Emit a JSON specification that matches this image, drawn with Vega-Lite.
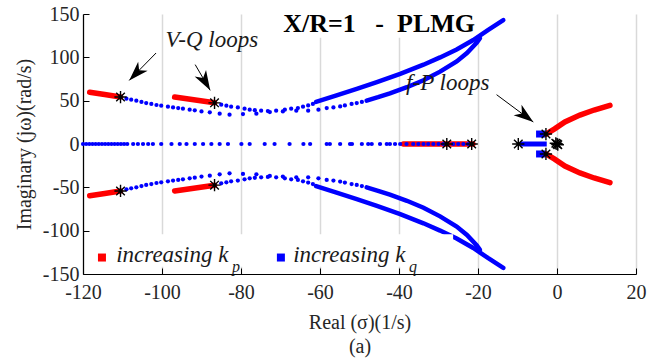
{
"$schema": "https://vega.github.io/schema/vega-lite/v6.json",
"width": 553, "height": 260,
"autosize": "none",
"padding": {"left": 83, "top": 14, "right": 15, "bottom": 88},
"background": "white",
"config": {"view": {"stroke": null}, "font": "Liberation Serif",
 "style": {"guide-label": {"font": "Liberation Serif", "fontSize": 20}, "guide-title": {"font": "Liberation Serif"}},
 "axis": {"labelFont": "Liberation Serif", "titleFont": "Liberation Serif"}},
"datasets": {
"kp": [
{"seg":"A+","x":-118.3,"y":59.8},{"seg":"A+","x":-114.5,"y":57.2},{"seg":"A+","x":-110.5,"y":54.2},
{"seg":"A-","x":-118.3,"y":-59.8},{"seg":"A-","x":-114.5,"y":-57.2},{"seg":"A-","x":-110.5,"y":-54.2},
{"seg":"B+","x":-96.8,"y":54.2},{"seg":"B+","x":-86.7,"y":47.5},
{"seg":"B-","x":-96.8,"y":-54.2},{"seg":"B-","x":-86.7,"y":-47.5},
{"seg":"R0","x":-38.9,"y":0},{"seg":"R0","x":-21.3,"y":0},
{"seg":"F+","x":-2.8,"y":11.5},{"seg":"F+","x":-0.6,"y":17.5},{"seg":"F+","x":2.0,"y":25.5},{"seg":"F+","x":5.8,"y":33.4},{"seg":"F+","x":9.4,"y":39.2},{"seg":"F+","x":13.4,"y":44.7},
{"seg":"F-","x":-2.8,"y":-11.5},{"seg":"F-","x":-0.6,"y":-17.5},{"seg":"F-","x":2.0,"y":-25.5},{"seg":"F-","x":5.8,"y":-33.4},{"seg":"F-","x":9.4,"y":-39.2},{"seg":"F-","x":13.4,"y":-44.7}
],
"kqCurves": [
{"seg":"O+","x":-61,"y":48.5},{"seg":"O+","x":-55.8,"y":56},{"seg":"O+","x":-50.7,"y":63.5},{"seg":"O+","x":-45.6,"y":71.5},{"seg":"O+","x":-39.7,"y":81},{"seg":"O+","x":-33.8,"y":91.5},{"seg":"O+","x":-29.6,"y":99.9},{"seg":"O+","x":-25.4,"y":109},{"seg":"O+","x":-21.2,"y":120},{"seg":"O+","x":-17.5,"y":131.5},{"seg":"O+","x":-13.6,"y":143},
{"seg":"O-","x":-61,"y":-48.5},{"seg":"O-","x":-55.8,"y":-56},{"seg":"O-","x":-50.7,"y":-63.5},{"seg":"O-","x":-45.6,"y":-71.5},{"seg":"O-","x":-39.7,"y":-81},{"seg":"O-","x":-33.8,"y":-91.5},{"seg":"O-","x":-29.6,"y":-99.9},{"seg":"O-","x":-25.4,"y":-109},{"seg":"O-","x":-21.2,"y":-120},{"seg":"O-","x":-17.5,"y":-131.5},{"seg":"O-","x":-13.6,"y":-143},
{"seg":"I+","x":-48.2,"y":50},{"seg":"I+","x":-45.3,"y":54},{"seg":"I+","x":-42.3,"y":58.5},{"seg":"I+","x":-38,"y":65.5},{"seg":"I+","x":-33.8,"y":73.5},{"seg":"I+","x":-29.6,"y":83.5},{"seg":"I+","x":-25.4,"y":95.3},{"seg":"I+","x":-22.8,"y":105},{"seg":"I+","x":-20.3,"y":117},{"seg":"I+","x":-19.5,"y":122},
{"seg":"I-","x":-48.2,"y":-50},{"seg":"I-","x":-45.3,"y":-54},{"seg":"I-","x":-42.3,"y":-58.5},{"seg":"I-","x":-38,"y":-65.5},{"seg":"I-","x":-33.8,"y":-73.5},{"seg":"I-","x":-29.6,"y":-83.5},{"seg":"I-","x":-25.4,"y":-95.3},{"seg":"I-","x":-22.8,"y":-105},{"seg":"I-","x":-20.3,"y":-117},{"seg":"I-","x":-19.5,"y":-122}
],
"kqAxis": [{"seg":"H","x":-9.4,"y":0},{"seg":"H","x":-2.6,"y":0}],
"kqBlocks": [{"seg":"S+","x":-5.3,"y":11.5},{"seg":"S+","x":-3.0,"y":11.5},{"seg":"S-","x":-5.3,"y":-11.5},{"seg":"S-","x":-3.0,"y":-11.5}],
"kqDots": [
{"x":-120,"y":0},{"x":-119.2,"y":0},{"x":-118.4,"y":0},{"x":-117.6,"y":0},{"x":-116.8,"y":0},{"x":-116,"y":0},{"x":-115.2,"y":0},{"x":-114.4,"y":0},{"x":-113.6,"y":0},{"x":-112.8,"y":0},{"x":-112,"y":0},{"x":-111.2,"y":0},{"x":-110.4,"y":0},{"x":-109.6,"y":0},{"x":-108.8,"y":0},{"x":-107.3,"y":0},{"x":-106.1,"y":0},{"x":-104.8,"y":0},{"x":-103.5,"y":0},{"x":-102.3,"y":0},{"x":-100.2,"y":0},{"x":-97.6,"y":0},{"x":-95.5,"y":0},{"x":-93.8,"y":0},{"x":-91.7,"y":0},{"x":-89.6,"y":0},{"x":-87.5,"y":0},{"x":-85.4,"y":0},{"x":-83.3,"y":0},{"x":-79.9,"y":0},{"x":-77.8,"y":0},{"x":-74,"y":0},{"x":-71.5,"y":0},{"x":-67.7,"y":0},{"x":-64.2,"y":0},{"x":-62.5,"y":0},{"x":-58.3,"y":0},{"x":-57.5,"y":0},{"x":-54.9,"y":0},{"x":-52.4,"y":0},{"x":-51.9,"y":0},{"x":-49.4,"y":0},{"x":-47.8,"y":0},{"x":-46.9,"y":0},{"x":-44.8,"y":0},{"x":-43.1,"y":0},{"x":-42.3,"y":0},{"x":-41,"y":0},{"x":-39.7,"y":0},{"x":-38.1,"y":0},{"x":-36.4,"y":0},{"x":-35.1,"y":0},{"x":-33.8,"y":0},{"x":-32.6,"y":0},{"x":-31.3,"y":0},{"x":-30,"y":0},{"x":-28.8,"y":0},{"x":-26.3,"y":0},{"x":-25,"y":0},{"x":-23.7,"y":0},{"x":-22.5,"y":0},
{"x":-109,"y":52.3},{"x":-107.8,"y":51.1},{"x":-106.5,"y":50},{"x":-105.2,"y":48.5},{"x":-104,"y":47.3},{"x":-102.7,"y":46.2},{"x":-101.4,"y":45},{"x":-100.2,"y":44.2},{"x":-98.5,"y":43},{"x":-97.2,"y":42.2},{"x":-95.9,"y":41.5},{"x":-94.7,"y":40.7},{"x":-93,"y":39.6},{"x":-91.7,"y":38.8},{"x":-90,"y":37.6},{"x":-87.9,"y":36.5},{"x":-85.4,"y":35},{"x":-82.9,"y":33.8},{"x":-79.5,"y":34.6},{"x":-76.1,"y":35},{"x":-72.7,"y":36.9},{"x":-69.4,"y":37.6},{"x":-66,"y":38.4},{"x":-63,"y":38.4},{"x":-60.4,"y":39.6},{"x":-58.3,"y":41.5},{"x":-56.6,"y":42.2},{"x":-54.9,"y":43.4},{"x":-53.7,"y":44.5},{"x":-52,"y":46.2},{"x":-50.7,"y":47.3},{"x":-49.4,"y":48.5},
{"x":-85,"y":45.3},{"x":-83.7,"y":44.2},{"x":-82.5,"y":43},{"x":-80.8,"y":42.2},{"x":-79.1,"y":40.7},{"x":-77.8,"y":39.6},{"x":-76.5,"y":39},{"x":-74.9,"y":38.4},{"x":-73.2,"y":38},{"x":-71.1,"y":38.4},{"x":-68.9,"y":39.6},{"x":-67.3,"y":40.7},{"x":-65.6,"y":41.5},{"x":-64.3,"y":43},{"x":-63,"y":44.5},{"x":-61.8,"y":46.2},
{"x":-109,"y":-52.3},{"x":-107.8,"y":-51.1},{"x":-106.5,"y":-50},{"x":-105.2,"y":-48.5},{"x":-104,"y":-47.3},{"x":-102.7,"y":-46.2},{"x":-101.4,"y":-45},{"x":-100.2,"y":-44.2},{"x":-98.5,"y":-43},{"x":-97.2,"y":-42.2},{"x":-95.9,"y":-41.5},{"x":-94.7,"y":-40.7},{"x":-93,"y":-39.6},{"x":-91.7,"y":-38.8},{"x":-90,"y":-37.6},{"x":-87.9,"y":-36.5},{"x":-85.4,"y":-35},{"x":-82.9,"y":-33.8},{"x":-79.5,"y":-34.6},{"x":-76.1,"y":-35},{"x":-72.7,"y":-36.9},{"x":-69.4,"y":-37.6},{"x":-66,"y":-38.4},{"x":-63,"y":-38.4},{"x":-60.4,"y":-39.6},{"x":-58.3,"y":-41.5},{"x":-56.6,"y":-42.2},{"x":-54.9,"y":-43.4},{"x":-53.7,"y":-44.5},{"x":-52,"y":-46.2},{"x":-50.7,"y":-47.3},{"x":-49.4,"y":-48.5},
{"x":-85,"y":-45.3},{"x":-83.7,"y":-44.2},{"x":-82.5,"y":-43},{"x":-80.8,"y":-42.2},{"x":-79.1,"y":-40.7},{"x":-77.8,"y":-39.6},{"x":-76.5,"y":-39},{"x":-74.9,"y":-38.4},{"x":-73.2,"y":-38},{"x":-71.1,"y":-38.4},{"x":-68.9,"y":-39.6},{"x":-67.3,"y":-40.7},{"x":-65.6,"y":-41.5},{"x":-64.3,"y":-43},{"x":-63,"y":-44.5},{"x":-61.8,"y":-46.2}
],
"stars": [
{"x":-110.5,"y":54.2},{"x":-110.5,"y":-54.2},{"x":-86.7,"y":47.5},{"x":-86.7,"y":-47.5},
{"x":-27.9,"y":0},{"x":-21.6,"y":0},{"x":-9.8,"y":0},{"x":-2.8,"y":11.5},{"x":-2.8,"y":-11.5},
{"x":-0.3,"y":0.8},{"x":0.2,"y":-0.8},{"x":0,"y":0}
],
"titleBox": [{"x":-70,"x2":-19.5,"y":150,"y2":122.7}],
"legendBox": [{"x":-119,"x2":-26.3,"y":-104.2,"y2":-141.5}],
"arrows": [
{"id":"a1","x":-101.5,"y":105,"x2":-108.3,"y2":73.4},
{"id":"a2","x":-91.6,"y":91.6,"x2":-87.8,"y2":61.9},
{"id":"a3","x":-15.3,"y":56.9,"x2":-6.0,"y2":25.4}
],
"legendKeys": [
{"series":"increasing kp","x":-115.2,"y":-131},
{"series":"increasing kq","x":-69.9,"y":-131}
]
},
"encoding": {
"x": {"field":"x","type":"quantitative",
 "scale":{"domain":[-120,20],"nice":false,"zero":false},
 "axis":{"values":[-120,-100,-80,-60,-40,-20,0,20],"grid":true,"gridColor":"#d9d9d9","gridWidth":1.5,
  "domainColor":"#000000","domainWidth":1.2,"tickColor":"#000000","tickSize":-6,"tickWidth":1,
  "labelFont":"Times New Roman","labelFontSize":20,"labelColor":"#262626","labelPadding":14,"labelFlush":false,
  "labelExpr":"datum.value + ''",
  "title":["Real (σ)(1/s)","(a)"],"titleFont":"Liberation Serif","titleFontSize":20,"titleFontWeight":"normal",
  "titleColor":"#262626","titlePadding":10,"titleLineHeight":24,"zindex":0}},
"y": {"field":"y","type":"quantitative",
 "scale":{"domain":[-150,150],"nice":false,"zero":false},
 "axis":{"values":[-150,-100,-50,0,50,100,150],"grid":false,
  "domainColor":"#000000","domainWidth":1.2,"tickColor":"#000000","tickSize":-6,"tickWidth":1,
  "labelFont":"Liberation Serif","labelFontSize":20,"labelColor":"#262626","labelPadding":10,"labelFlush":false,
  "labelExpr":"datum.value + ''",
  "title":"Imaginary (jω)(rad/s)","titleFont":"Liberation Serif","titleFontSize":20,"titleFontWeight":"normal",
  "titleColor":"#262626","titlePadding":8,"zindex":0}}
},
"layer": [
{"data":{"name":"titleBox"},"mark":{"type":"rect","fill":"#ffffff","stroke":null},
 "encoding":{"x2":{"field":"x2"},"y2":{"field":"y2"}}},
{"data":{"name":"kp"},"mark":{"type":"line","color":"#ff0000","strokeWidth":5.5,"strokeCap":"round"},
 "encoding":{"detail":{"field":"seg"}}},
{"data":{"name":"kqCurves"},"mark":{"type":"line","color":"#0000ff","strokeWidth":4.5,"strokeCap":"round"},
 "encoding":{"detail":{"field":"seg"}}},
{"data":{"name":"kqAxis"},"mark":{"type":"line","color":"#0000ff","strokeWidth":5,"strokeCap":"butt"},
 "encoding":{"detail":{"field":"seg"}}},
{"data":{"name":"kqBlocks"},"mark":{"type":"line","color":"#0000ff","strokeWidth":7,"strokeCap":"butt"},
 "encoding":{"detail":{"field":"seg"}}},
{"data":{"name":"kqDots"},"mark":{"type":"point","filled":true,"color":"#0000ff","size":18,"opacity":1,"shape":"circle"}},
{"data":{"name":"legendBox"},"mark":{"type":"rect","fill":"#ffffff","stroke":null},
 "encoding":{"x2":{"field":"x2"},"y2":{"field":"y2"}}},
{"data":{"name":"stars"},"mark":{"type":"point","filled":false,"color":"#000000","strokeWidth":1.4,"opacity":1,"size":150,
 "shape":"M-1,0L1,0M0,-1L0,1M-0.7,-0.7L0.7,0.7M-0.7,0.7L0.7,-0.7"}},
{"data":{"name":"arrows"},"mark":{"type":"rule","color":"#000000","strokeWidth":1},
 "encoding":{"x2":{"field":"x2"},"y2":{"field":"y2"}}},
{"data":{"name":"arrows"},"transform":[{"filter":"datum.id == 'a1'"}],
 "mark":{"type":"point","filled":true,"color":"#000000","opacity":1,"size":480,"angle":224,
 "shape":"M0,0L0.6,1.8L0,1.3L-0.6,1.8Z"},
 "encoding":{"x":{"field":"x2","type":"quantitative"},"y":{"field":"y2","type":"quantitative"}}},
{"data":{"name":"arrows"},"transform":[{"filter":"datum.id == 'a2'"}],
 "mark":{"type":"point","filled":true,"color":"#000000","opacity":1,"size":480,"angle":150,
 "shape":"M0,0L0.6,1.8L0,1.3L-0.6,1.8Z"},
 "encoding":{"x":{"field":"x2","type":"quantitative"},"y":{"field":"y2","type":"quantitative"}}},
{"data":{"name":"arrows"},"transform":[{"filter":"datum.id == 'a3'"}],
 "mark":{"type":"point","filled":true,"color":"#000000","opacity":1,"size":480,"angle":127,
 "shape":"M0,0L0.6,1.8L0,1.3L-0.6,1.8Z"},
 "encoding":{"x":{"field":"x2","type":"quantitative"},"y":{"field":"y2","type":"quantitative"}}},
{"data":{"values":[{"x":-69.3,"y":129.6,"t":"X/R=1\u00a0\u00a0\u00a0-\u00a0\u00a0PLMG"}]},
 "mark":{"type":"text","font":"Liberation Serif","fontSize":26,"fontWeight":"bold","color":"#000000","align":"left","baseline":"alphabetic"},
 "encoding":{"text":{"field":"t"}}},
{"data":{"values":[{"x":-99.1,"y":112.3,"t":"V-Q loops"},{"x":-38.2,"y":62.6,"t":"f-P loops"}]},
 "mark":{"type":"text","font":"Liberation Serif","fontSize":23,"fontStyle":"italic","color":"#1a1a1a","align":"left","baseline":"alphabetic"},
 "encoding":{"text":{"field":"t"}}},
{"data":{"name":"legendKeys"},
 "mark":{"type":"point","shape":"square","filled":true,"size":64,"opacity":1},
 "encoding":{"color":{"field":"series","type":"nominal","scale":{"domain":["increasing kp","increasing kq"],"range":["#ff0000","#0000ff"]},"legend":null}}},
{"data":{"values":[{"x":-111.6,"y":-135.8,"t":"increasing k"},{"x":-66.8,"y":-135.8,"t":"increasing k"}]},
 "mark":{"type":"text","font":"Liberation Serif","fontSize":23,"fontStyle":"italic","color":"#1a1a1a","align":"left","baseline":"alphabetic"},
 "encoding":{"text":{"field":"t"}}},
{"data":{"values":[{"x":-82.3,"y":-147.5,"t":"p"},{"x":-37.5,"y":-147.5,"t":"q"}]},
 "mark":{"type":"text","font":"Liberation Serif","fontSize":16,"fontStyle":"italic","color":"#1a1a1a","align":"left","baseline":"alphabetic","clip":false},
 "encoding":{"text":{"field":"t"}}}
]
}
